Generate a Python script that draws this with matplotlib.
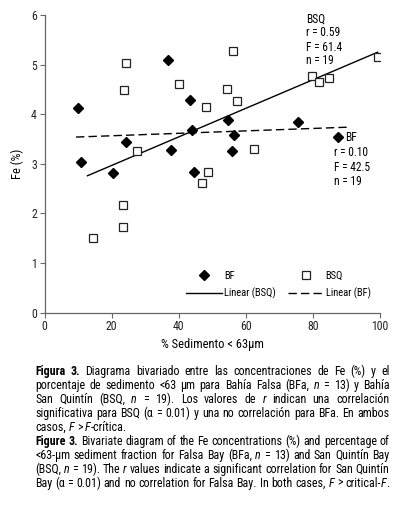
import re
import matplotlib
matplotlib.use("Agg")
import matplotlib.pyplot as plt
from matplotlib import font_manager
from matplotlib.lines import Line2D

# ---------------- data ----------------
bf_x = [10.1, 11.0, 20.4, 24.2, 36.7, 37.8, 43.5, 44.0, 44.5, 54.6, 55.8, 56.6, 75.7]
bf_y = [4.12, 3.04, 2.81, 3.44, 5.09, 3.27, 4.29, 3.68, 2.84, 3.88, 3.25, 3.58, 3.85]

bsq_x = [14.5, 23.5, 23.5, 23.6, 24.2, 27.5, 40.2, 47.0, 48.1, 48.6, 54.3, 56.2,
         57.3, 62.4, 79.8, 81.9, 84.9, 99.3]
bsq_y = [1.51, 1.72, 2.17, 4.48, 5.03, 3.25, 4.60, 2.62, 4.14, 2.84, 4.51, 5.28,
         4.27, 3.30, 4.78, 4.64, 4.74, 5.15]

bsq_trend_x = [12.8, 99.3]
bsq_trend_y = [2.76, 5.25]
bf_trend_x = [9.4, 90.8]
bf_trend_y = [3.54, 3.74]

x_ticks = [0, 20, 40, 60, 80, 100]
y_ticks = [0, 1, 2, 3, 4, 5, 6]

bsq_stats = ["BSQ", "r = 0.59", "F = 61.4", "n = 19"]
bf_stats = ["r = 0.10", "F = 42.5", "n = 19"]

caption_lines = [
    ("**Figura** **3.** Diagrama bivariado entre las concentraciones de Fe (%) y el", True),
    ("porcentaje de sedimento <63 µm para Bahía Falsa (BFa, *n* = 13) y Bahía", True),
    ("San Quintín (BSQ, *n* = 19). Los valores de *r* indican una correlación", True),
    ("significativa para BSQ (α = 0.01) y una no correlación para BFa. En ambos", True),
    ("casos, *F* > *F*-crítica.", False),
    ("**Figure** **3.** Bivariate diagram of the Fe concentrations (%) and percentage of", True),
    ("<63-µm sediment fraction for Falsa Bay (BFa, *n* = 13) and San Quintín Bay", True),
    ("(BSQ, *n* = 19). The *r* values indicate a significant correlation for San Quintín", True),
    ("Bay (α = 0.01) and no correlation for Falsa Bay. In both cases, *F* > critical-*F*.", True),
]

# ---------------- fonts ----------------
entries = font_manager.fontManager.ttflist
names = {f.name for f in entries}


def has_bold(name):
    return any(f.name == name and (f.weight in ("bold", "heavy", "black") or
                                   (isinstance(f.weight, int) and f.weight >= 600))
               for f in entries)


FONT = "Liberation Sans"
for cand in ["Liberation Sans Narrow", "Arial Narrow", "Roboto Condensed", "Nimbus Sans Narrow",
             "PT Sans Narrow", "Archivo Narrow", "Cabin Condensed", "Asap Condensed"]:
    if cand in names:
        FONT = cand
        break

BOLD_FONT = FONT
if not has_bold(FONT):
    for cand in ["Roboto Condensed", "Asap Condensed", "Cabin Condensed", "Barlow Semi Condensed",
                 "Liberation Sans"]:
        if cand in names and has_bold(cand):
            BOLD_FONT = cand
            break

plt.rcParams["font.family"] = [FONT, "DejaVu Sans"]

W, H = 398, 519
fig = plt.figure(figsize=(W / 100, H / 100), dpi=100)
ax = fig.add_axes([44.5 / W, 1 - 312.7 / H, (380 - 44.5) / W, (312.7 - 15) / H])

ax.plot(bsq_trend_x, bsq_trend_y, color="black", lw=1.0, zorder=2)
ax.plot(bf_trend_x, bf_trend_y, color="black", lw=1.0, dashes=(6, 3), zorder=2)
ax.plot(bf_x, bf_y, ls="none", marker="D", ms=4.9, mfc="black", mec="black", zorder=3)
ax.plot(bsq_x, bsq_y, ls="none", marker="s", ms=6.0, mfc="white", mec="#222222",
        mew=0.9, zorder=3)

ax.set_xlim(0, 100)
ax.set_ylim(0, 6)
ax.set_xticks(x_ticks)
ax.set_yticks(y_ticks)
ax.tick_params(direction="out", length=3.5, width=0.8, color="#666666",
               labelsize=8.5, pad=2, labelcolor="#222222")
for s in ["top", "right"]:
    ax.spines[s].set_visible(False)
for s in ["left", "bottom"]:
    ax.spines[s].set_color("#666666")
    ax.spines[s].set_linewidth(0.9)

ax.set_ylabel("Fe (%)", fontsize=9, labelpad=5)
ax.set_xlabel("% Sedimento < 63µm", fontsize=9, labelpad=3)

# stats annotations
ys = [5.92, 5.64, 5.34, 5.09]
for t, yv in zip(bsq_stats, ys):
    ax.text(77.9, yv, t, fontsize=8.3, va="center", ha="left")
ax.plot([87.4], [3.54], marker="D", ms=4.9, color="black", ls="none", clip_on=False)
ax.text(89.6, 3.54, "BF", fontsize=8.3, va="center", ha="left")
for t, yv in zip(bf_stats, [3.22, 2.92, 2.64]):
    ax.text(86.3, yv, t, fontsize=8.3, va="center", ha="left")

handles = [
    Line2D([], [], ls="none", marker="D", ms=4.9, color="black"),
    Line2D([], [], color="black", lw=1.0),
    Line2D([], [], ls="none", marker="s", ms=6.0, mfc="white", mec="#222222", mew=0.9),
    Line2D([], [], color="black", lw=1.0, dashes=(6, 3)),
]
labels = ["BF", "Linear (BSQ)", "BSQ", "Linear (BF)"]
ax.legend(handles, labels, ncol=2, frameon=False, fontsize=7.6, loc="center right",
          bbox_to_anchor=((376 - 44.5) / 335.5, 0.093), handlelength=3.4, handletextpad=0.2,
          columnspacing=1.1, labelspacing=0.65, borderpad=0)

# ---------------- caption ----------------
renderer = fig.canvas.get_renderer()


def parse(line):
    words = []
    for w in line.split(" "):
        runs = []
        for part in re.split(r"(\*\*[^*]+\*\*|\*[^*]+\*)", w):
            if not part:
                continue
            if part.startswith("**"):
                runs.append((part[2:-2], "bold"))
            elif part.startswith("*"):
                runs.append((part[1:-1], "italic"))
            else:
                runs.append((part, "normal"))
        words.append(runs)
    return words


LEFT, RIGHT = 35.0, 389.5
parsed = [(parse(l), j) for l, j in caption_lines]


def make_words(words, fs, yb):
    objs, widths = [], []
    for runs in words:
        wobjs, ww = [], 0
        for txt, style in runs:
            kw = dict(fontsize=fs, va="baseline", ha="left")
            if style == "bold":
                kw["fontweight"] = "bold"
                kw["family"] = [BOLD_FONT, "DejaVu Sans"]
            elif style == "italic":
                kw["fontstyle"] = "italic"
            t = fig.text(0, yb, txt, **kw)
            wdt = t.get_window_extent(renderer).width
            wobjs.append((t, wdt))
            ww += wdt
        objs.append(wobjs)
        widths.append(ww)
    return objs, widths


def space_width(fs):
    a = fig.text(0, 0, "a a", fontsize=fs)
    b = fig.text(0, 0, "aa", fontsize=fs)
    s = a.get_window_extent(renderer).width - b.get_window_extent(renderer).width
    a.remove(); b.remove()
    return s


# largest font size for which every line fits with at least a normal space
FS = 11.0
for _ in range(4):
    sw = space_width(FS)
    worst = 0
    for words, j in parsed:
        objs, widths = make_words(words, FS, 0)
        need = sum(widths) + 1.0 * sw * (len(words) - 1)
        worst = max(worst, need)
        for wo in objs:
            for t, _w in wo:
                t.remove()
    if worst > RIGHT - LEFT:
        FS = FS * (RIGHT - LEFT) / worst * 0.998
    else:
        break
FS = min(FS, 9.2)

space_w = space_width(FS)
baseline0 = 375.0
step = 13.95
for i, (words, justify) in enumerate(parsed):
    yb = 1 - (baseline0 + i * step) / H
    objs, widths = make_words(words, FS, yb)
    total = sum(widths)
    if justify and len(words) > 1:
        gap = (RIGHT - LEFT - total) / (len(words) - 1)
    else:
        gap = space_w
    x = LEFT
    for wobjs, ww in zip(objs, widths):
        xx = x
        for t, wdt in wobjs:
            t.set_x(xx / W)
            xx += wdt
        x += ww + gap

fig.savefig("out.png", dpi=100)
